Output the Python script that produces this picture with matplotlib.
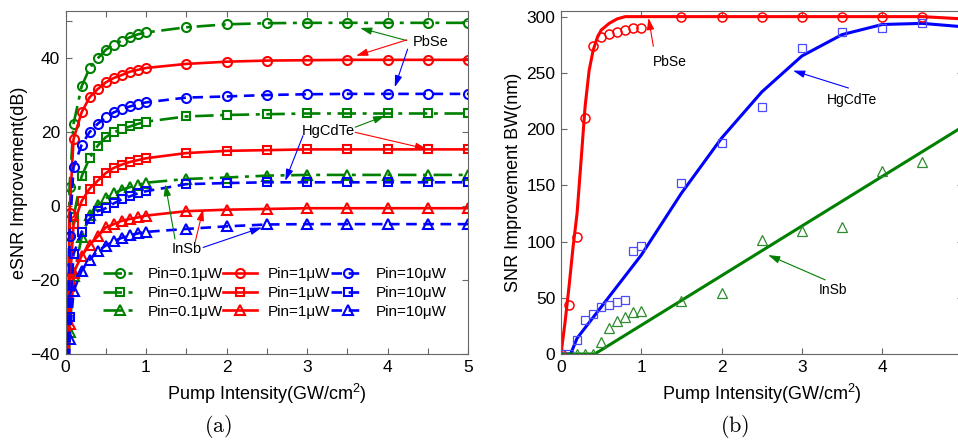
import numpy as np
import matplotlib
matplotlib.use("Agg")
import matplotlib.pyplot as plt
from matplotlib.ticker import FixedLocator

plt.rcParams['font.family'] = ['Liberation Sans', 'DejaVu Sans']
plt.rcParams['mathtext.fontset'] = 'custom'
plt.rcParams['mathtext.rm'] = 'Liberation Sans'
plt.rcParams['mathtext.it'] = 'Liberation Sans:italic'

# ---------------- (a) eSNR improvement vs pump intensity ----------------
pump_a = [0.0, 0.02, 0.05, 0.1, 0.2, 0.3, 0.4, 0.5, 0.6, 0.7, 0.8, 0.9, 1.0,
          1.5, 2.0, 2.5, 3.0, 3.5, 4.0, 4.5, 5.0]
nan = np.nan
pbse_01 = [-17, -60, 5, 22.2, 32.3, 37.3, 39.9, 42.2, 43.6, 44.7, 45.6, 46.4, 46.9,
           48.3, 49.1, 49.4, 49.5, 49.5, 49.5, 49.5, 49.5]
pbse_1 = [nan, -60, -2, 18.1, 25.3, 29.4, 31.6, 33.4, 34.6, 35.4, 36.3, 36.8, 37.3,
          38.4, 39.0, 39.3, 39.4, 39.5, 39.5, 39.5, 39.5]
pbse_10 = [nan, -60, -8, 10.5, 16.5, 20.0, 22.2, 24.0, 25.3, 26.2, 26.9, 27.5, 28.0,
           29.3, 29.6, 30.0, 30.2, 30.3, 30.3, 30.3, 30.3]
hgcdte_01 = [nan, -60, -20, -3, 8, 13, 16.3, 18.6, 19.9, 20.8, 21.5, 22.2, 22.8,
             24.2, 24.6, 24.8, 25.0, 25.0, 25.0, 25.0, 25.0]
hgcdte_1 = [nan, -60, -22, -5, 1.3, 4.7, 6.8, 8.9, 10.3, 11.2, 11.9, 12.4, 12.9,
            14.3, 14.9, 15.1, 15.3, 15.3, 15.3, 15.3, 15.3]
hgcdte_10 = [nan, -60, -30, -13, -7, -3.5, -1.4, -0.6, 0.7, 1.8, 2.6, 3.4, 4.0,
             5.9, 6.2, 6.4, 6.4, 6.4, 6.4, 6.4, 6.4]
insb_01 = [nan, -60, -34, -19, -8.5, -2.5, 0.3, 2.1, 3.4, 4.4, 5.1, 5.7, 6.3,
           7.3, 7.7, 8.2, 8.4, 8.4, 8.4, 8.4, 8.4]
insb_1 = [nan, -60, -32, -18, -13.5, -10.5, -8.2, -5.8, -4.9, -4.0, -3.5, -3.1, -2.6,
          -1.4, -1.0, -0.8, -0.6, -0.6, -0.6, -0.6, -0.6]
insb_10 = [nan, -60, -36, -23, -17.5, -14.5, -12.2, -10.7, -9.5, -8.6, -7.9, -7.4, -7.0,
           -6.2, -5.5, -5.0, -4.9, -4.9, -4.9, -4.9, -4.9]

legend_labels = ['Pin=0.1\u03bcW', 'Pin=1\u03bcW', 'Pin=10\u03bcW']

# ---------------- (b) SNR improvement bandwidth ----------------
pbse_fit_x = [0, 0.05, 0.1, 0.15, 0.2, 0.25, 0.3, 0.35, 0.4, 0.45, 0.5, 0.6, 0.7, 0.8, 1.0, 4.5, 5.0]
pbse_fit_y = [0, 28, 60, 95, 125, 172, 220, 252, 270, 281, 288, 294, 298, 300, 300, 300, 298]
hg_fit_x = [0, 0.12, 0.2, 1.0, 1.5, 2.0, 2.5, 3.0, 3.5, 4.0, 4.5, 5.0]
hg_fit_y = [0, 0, 14, 88, 143, 192, 233, 265, 284, 293, 294, 291]
insb_fit_x = [0, 0.42, 5.0]
insb_fit_y = [0, 0, 202]

pbse_bw_x = [0, 0.1, 0.2, 0.3, 0.4, 0.5, 0.6, 0.7, 0.8, 0.9, 1.0, 1.5, 2.0, 2.5, 3.0, 3.5, 4.0, 4.5]
pbse_bw_y = [0, 44, 104, 210, 274, 282, 284.5, 286, 288, 290, 290, 300, 300, 300, 300, 300, 300, 300]
hg_bw_x = [0, 0.1, 0.2, 0.3, 0.4, 0.5, 0.6, 0.7, 0.8, 0.9, 1.0, 1.5, 2.0, 2.5, 3.0, 3.5, 4.0, 4.5]
hg_bw_y = [0, 0, 12.5, 30, 36, 42, 44, 46, 48, 92, 96, 152, 188, 220, 272, 286, 290, 294]
insb_bw_x = [0.2, 0.3, 0.4, 0.5, 0.6, 0.7, 0.8, 0.9, 1.0, 1.5, 2.0, 2.5, 3.0, 3.5, 4.0, 4.5, 5.0]
insb_bw_y = [0, 0, 0, 11, 23, 29, 33, 37, 38.5, 47.5, 54.5, 101, 109, 113, 163, 170.5, 216]

GREEN = '#008000'
RED = '#ff0000'
BLUE = '#0000ff'
SPINE = '#666666'

W, H = 958, 447
fig = plt.figure(figsize=(W / 100, H / 100), dpi=100)
ax1 = fig.add_axes([65.5 / W, 1 - 354 / H, 402.5 / W, 343 / H])
ax2 = fig.add_axes([561 / W, 1 - 354 / H, 401.5 / W, 343 / H])


def style_axes(ax):
    for s in ax.spines.values():
        s.set_color(SPINE)
        s.set_linewidth(0.8)
    ax.tick_params(which='both', direction='in', top=True, right=True,
                   color=SPINE, width=0.8, labelsize=12.5, labelcolor='black')
    ax.tick_params(which='major', length=4)
    ax.tick_params(which='minor', length=4)
    ax.tick_params(axis='x', pad=4)
    ax.tick_params(axis='y', pad=4)


# ---- panel (a) ----
series = [
    (pbse_01, GREEN, (0, (7, 2.5, 1.5, 2.5)), 'o', 6.5),
    (hgcdte_01, GREEN, (0, (7, 2.5, 1.5, 2.5)), 's', 5.5),
    (insb_01, GREEN, (0, (7, 2.5, 1.5, 2.5)), '^', 7.5),
    (pbse_1, RED, '-', 'o', 6.5),
    (hgcdte_1, RED, '-', 's', 5.5),
    (insb_1, RED, '-', '^', 7.5),
    (pbse_10, BLUE, (0, (4, 2.5)), 'o', 6.5),
    (hgcdte_10, BLUE, (0, (4, 2.5)), 's', 5.5),
    (insb_10, BLUE, (0, (4, 2.5)), '^', 7.5),
]
handles = []
labels = []
for i, (vals, col, ls, mk, ms) in enumerate(series):
    h, = ax1.plot(pump_a, vals, color=col, linestyle=ls, lw=1.9, marker=mk,
                  ms=ms, mfc='none', mec=col, mew=1.5)
    handles.append(h)
    labels.append(legend_labels[i // 3])

ax1.set_xlim(0, 5)
ax1.set_ylim(-40, 52.7)
ax1.set_xticks([0, 1, 2, 3, 4, 5])
ax1.xaxis.set_minor_locator(FixedLocator([0.5, 1.5, 2.5, 3.5, 4.5]))
ax1.set_yticks([-40, -20, 0, 20, 40])
ax1.yaxis.set_minor_locator(FixedLocator([50]))
style_axes(ax1)
ax1.set_xlabel('Pump Intensity(GW/cm$^2$)', fontsize=13, labelpad=5)
ax1.set_ylabel('eSNR Improvement(dB)', fontsize=13, labelpad=2)

ax1.legend(handles, labels, ncol=3, loc='center left', bbox_to_anchor=(0.093, 0.178),
           frameon=False, fontsize=11, handlelength=2.2, handletextpad=0.75,
           columnspacing=0.0, labelspacing=0.3, borderpad=0, borderaxespad=0)


def arrow(ax, head, tail, col):
    ax.annotate('', xy=head, xytext=tail,
                arrowprops=dict(arrowstyle='-|>,head_length=0.7,head_width=0.22',
                                color=col, lw=0.8, shrinkA=0, shrinkB=0,
                                mutation_scale=10))


ax1.text(4.53, 44.2, 'PbSe', fontsize=10.5, ha='center', va='center')
arrow(ax1, (3.66, 48.1), (4.24, 44.7), GREEN)
arrow(ax1, (3.61, 40.6), (4.24, 44.9), RED)
arrow(ax1, (4.09, 32.1), (4.25, 42.4), BLUE)

ax1.text(3.26, 20.4, 'HgCdTe', fontsize=10.5, ha='center', va='center')
arrow(ax1, (3.97, 24.4), (3.6, 21.3), GREEN)
arrow(ax1, (4.49, 15.4), (3.6, 19.9), RED)
arrow(ax1, (2.73, 6.8), (2.95, 19.0), BLUE)

ax1.text(1.5, -11.6, 'InSb', fontsize=10.5, ha='center', va='center')
arrow(ax1, (1.24, 5.9), (1.36, -8.9), GREEN)
arrow(ax1, (1.71, -0.8), (1.61, -9.8), RED)
arrow(ax1, (2.44, -5.8), (1.71, -11.2), BLUE)

# ---- panel (b) ----
ax2.plot(pbse_fit_x, pbse_fit_y, color=RED, lw=2.2)
ax2.plot(hg_fit_x, hg_fit_y, color=BLUE, lw=2.2)
ax2.plot(insb_fit_x, insb_fit_y, color=GREEN, lw=2.2)
ax2.plot(pbse_bw_x, pbse_bw_y, ls='none', marker='o', ms=6.5, mfc='none', mec=RED, mew=1.1)
ax2.plot(hg_bw_x, hg_bw_y, ls='none', marker='s', ms=5.5, mfc='none', mec='#4a4aff', mew=0.9)
ax2.plot(insb_bw_x, insb_bw_y, ls='none', marker='^', ms=7, mfc='none', mec='#2e8b2e', mew=0.9)

ax2.set_xlim(0, 5)
ax2.set_ylim(0, 305)
ax2.set_xticks([0, 1, 2, 3, 4])
ax2.set_yticks([0, 50, 100, 150, 200, 250, 300])
style_axes(ax2)
ax2.set_xlabel('Pump Intensity(GW/cm$^2$)', fontsize=13, labelpad=5)
ax2.set_ylabel('SNR Improvement BW(nm)', fontsize=13, labelpad=3)

ax2.text(1.36, 260, 'PbSe', fontsize=10, ha='center', va='center')
arrow(ax2, (1.09, 298.8), (1.15, 273.6), RED)
ax2.text(3.62, 226, 'HgCdTe', fontsize=10, ha='center', va='center')
arrow(ax2, (2.89, 252), (3.58, 236.5), BLUE)
ax2.text(3.39, 57, 'InSb', fontsize=10, ha='center', va='center')
arrow(ax2, (2.58, 88), (3.29, 65.9), GREEN)

# panel captions
cap_font = dict(fontsize=16, ha='center', va='center')
plt.rcParams['mathtext.fontset'] = 'cm'
fig.text(218 / W, 1 - 426 / H, r'$\mathrm{(a)}$', **cap_font)
fig.text(735 / W, 1 - 426 / H, r'$\mathrm{(b)}$', **cap_font)

fig.savefig('out.png', dpi=100)
